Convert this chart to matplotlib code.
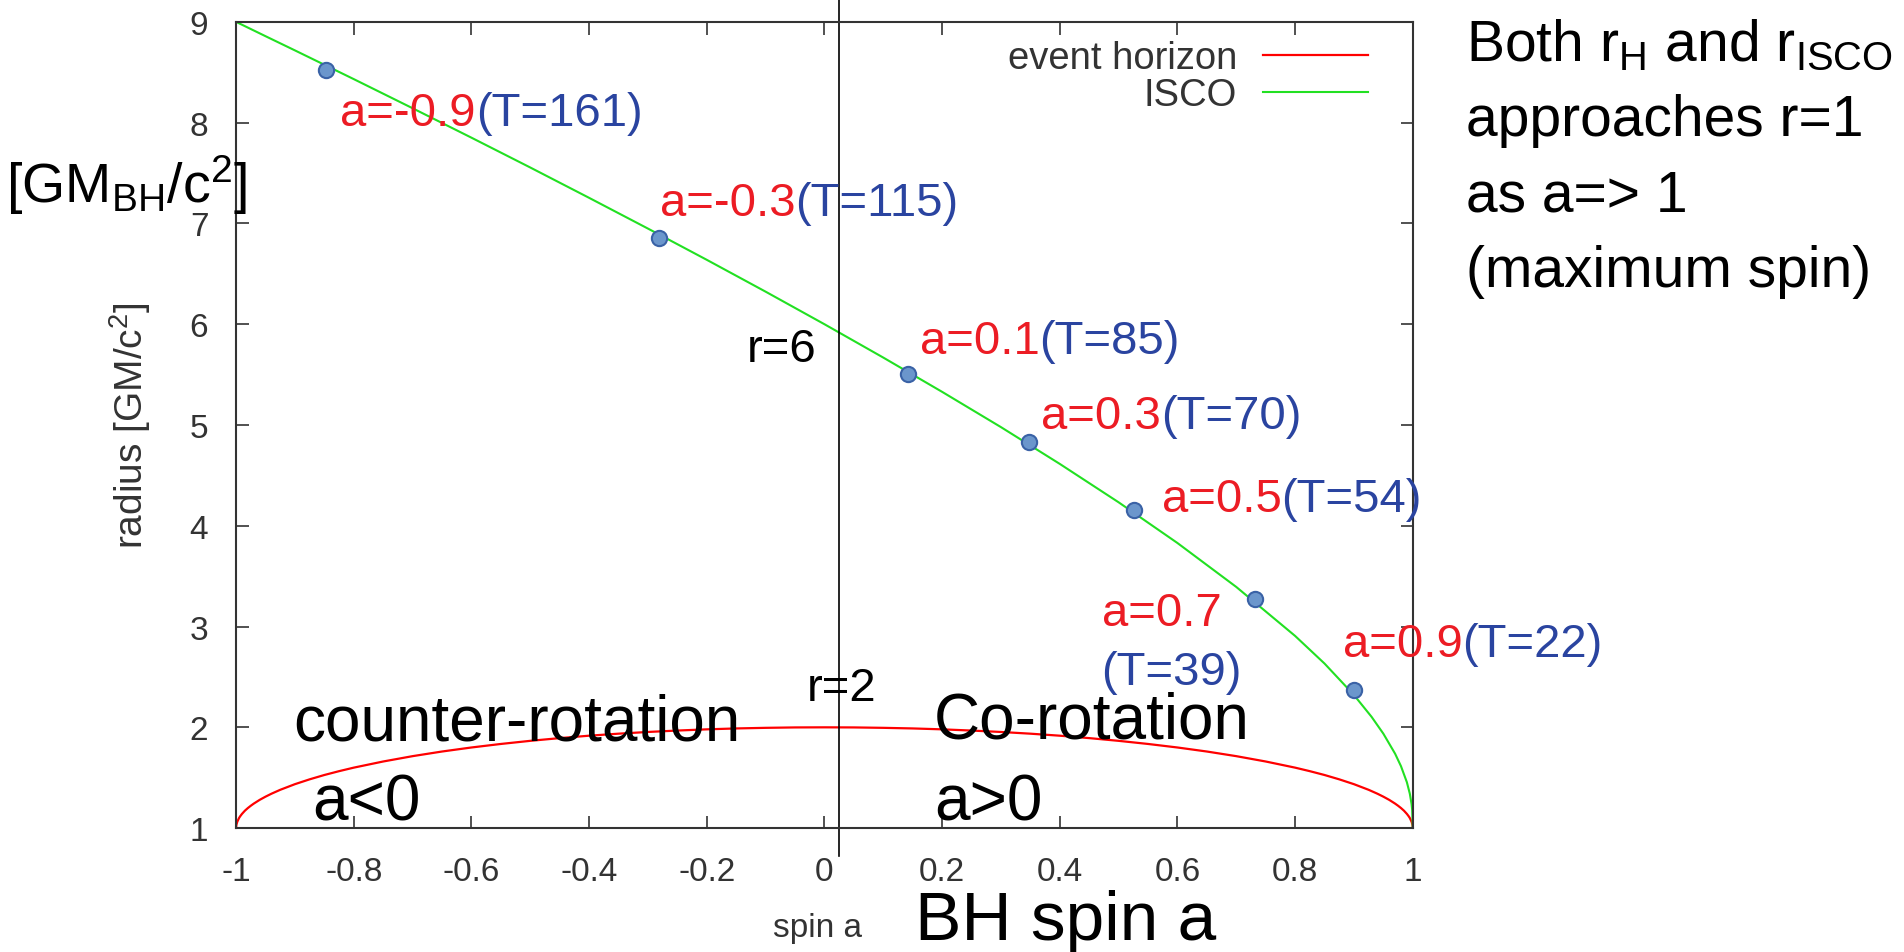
import numpy as np
import matplotlib
matplotlib.use("Agg")
from matplotlib import pyplot as plt

plt.rcParams['font.family'] = ['Liberation Sans', 'DejaVu Sans']
plt.rcParams['mathtext.fontset'] = 'custom'
plt.rcParams['mathtext.rm'] = 'Liberation Sans'
plt.rcParams['mathtext.it'] = 'Liberation Sans:italic'

# ISCO radius vs spin
isco_a = [-1.0, -0.95, -0.9, -0.8, -0.7, -0.6, -0.5, -0.4, -0.3, -0.2, -0.1, 0.0,
          0.1, 0.2, 0.3, 0.4, 0.5, 0.6, 0.7, 0.8, 0.85, 0.9, 0.93, 0.95, 0.97,
          0.98, 0.99, 0.995, 0.998, 0.999, 1.0]
isco_r = [9.0, 8.858, 8.717, 8.432, 8.143, 7.851, 7.555, 7.254, 6.949, 6.639, 6.323, 6.0,
          5.669, 5.329, 4.979, 4.614, 4.233, 3.829, 3.393, 2.907, 2.633, 2.321, 2.104, 1.937, 1.738,
          1.614, 1.455, 1.341, 1.237, 1.180, 1.0]

# event horizon radius vs spin
eh_a = [-1.0, -0.9995, -0.998, -0.995, -0.993, -0.99, -0.985, -0.98, -0.975, -0.97, -0.96,
        -0.95, -0.94, -0.925, -0.9, -0.875, -0.85, -0.825, -0.8, -0.75, -0.7, -0.65, -0.6,
        -0.55, -0.5, -0.45, -0.4, -0.35, -0.3, -0.25, -0.2, -0.15, -0.1, -0.05, 0.0,
        0.05, 0.1, 0.15, 0.2, 0.25, 0.3, 0.35, 0.4, 0.45, 0.5, 0.55, 0.6, 0.65, 0.7,
        0.75, 0.8, 0.825, 0.85, 0.875, 0.9, 0.925, 0.94, 0.95, 0.96, 0.97, 0.975, 0.98,
        0.985, 0.99, 0.993, 0.995, 0.998, 0.9995, 1.0]
eh_r = [1.0, 1.032, 1.063, 1.100, 1.118, 1.141, 1.173, 1.199, 1.222, 1.243, 1.280,
        1.312, 1.341, 1.380, 1.436, 1.484, 1.527, 1.565, 1.6, 1.661, 1.714, 1.760, 1.8,
        1.835, 1.866, 1.893, 1.917, 1.937, 1.954, 1.968, 1.980, 1.989, 1.995, 1.999, 2.0,
        1.999, 1.995, 1.989, 1.980, 1.968, 1.954, 1.937, 1.917, 1.893, 1.866, 1.835, 1.8, 1.760, 1.714,
        1.661, 1.6, 1.565, 1.527, 1.484, 1.436, 1.380, 1.341, 1.312, 1.280, 1.243, 1.222, 1.199,
        1.173, 1.141, 1.118, 1.100, 1.063, 1.032, 1.0]

# marked simulation runs
dot_a = [-0.847, -0.281, 0.142, 0.347, 0.526, 0.732, 0.900]
dot_r = [8.52, 6.86, 5.51, 4.83, 4.16, 3.27, 2.37]
spin_txt = ['a=-0.9', 'a=-0.3', 'a=0.1', 'a=0.3', 'a=0.5', 'a=0.7', 'a=0.9']
period_txt = ['(T=161)', '(T=115)', '(T=85)', '(T=70)', '(T=54)', '(T=39)', '(T=22)']

xticks = [-1, -0.8, -0.6, -0.4, -0.2, 0, 0.2, 0.4, 0.6, 0.8, 1]
xticklabels = ['-1', '-0.8', '-0.6', '-0.4', '-0.2', '0', '0.2', '0.4', '0.6', '0.8', '1']
yticks = [1, 2, 3, 4, 5, 6, 7, 8, 9]

# label placement (data coords, left/baseline)
label_pos = [(-0.823, 7.98), (-0.28, 7.08), (0.162, 5.71), (0.368, 4.97),
             (0.573, 4.15), (0.471, 3.02), (0.881, 2.71)]

RED = '#ec1c24'
BLUE = '#2a44a0'
GRAY = '#333333'

fig = plt.figure(figsize=(19.04, 9.53), dpi=100)
ax = fig.add_axes([0.124, 0.130, 0.618, 0.846])

ax.plot(eh_a, eh_r, color='#ff0000', lw=1.6, label='event horizon')
ax.plot(isco_a, isco_r, color='#22e022', lw=1.5, label='ISCO')
ax.plot(dot_a, dot_r, 'o', ms=11, mfc='#6b96cc', mec='#3a62a6', mew=1.5, zorder=5)

ax.set_xlim(-1, 1)
ax.set_ylim(1, 9)
ax.set_xticks(xticks)
ax.set_xticklabels(xticklabels)
ax.set_yticks(yticks)
ax.tick_params(direction='in', length=9, width=1.2, top=True, right=True,
               labelsize=24, labelcolor=GRAY, color=GRAY, pad=20)
for s in ax.spines.values():
    s.set_color(GRAY)
    s.set_linewidth(1.5)

# a=0 divider, runs past the frame
ax.axvline(0.025, ymin=-0.034, ymax=1.03, color='black', lw=1.2, clip_on=False)

ax.set_xlabel('spin a', fontsize=24, color=GRAY, va='baseline')
ax.xaxis.set_label_coords(0.494, -0.134)
ax.set_ylabel('radius [GM/c$^2$]', fontsize=28, color=GRAY)
ax.yaxis.set_label_coords(-0.071, 0.501)

ax.legend(loc='upper right', bbox_to_anchor=(0.962, 0.977), frameon=False,
          markerfirst=False, fontsize=27.5, labelcolor=GRAY, handlelength=2.75,
          handletextpad=0.68, labelspacing=0.02, borderpad=0, borderaxespad=0)

for i in range(len(spin_txt)):
    x, y = label_pos[i]
    t = ax.text(x, y, spin_txt[i], color=RED, fontsize=34, va='baseline')
    if i == 5:
        ax.text(x, 2.43, period_txt[i], color=BLUE, fontsize=34, va='baseline')
    else:
        ax.annotate(period_txt[i], xy=(1, 0), xycoords=t, va='bottom', ha='left',
                    color=BLUE, fontsize=34)

ax.text(-0.132, 5.63, 'r=6', fontsize=34, va='baseline')
ax.text(-0.030, 2.27, 'r=2', fontsize=34, va='baseline')
ax.text(-0.903, 1.88, 'counter-rotation', fontsize=46, va='baseline')
ax.text(-0.871, 1.09, 'a<0', fontsize=46, va='baseline')
ax.text(0.186, 1.90, 'Co-rotation', fontsize=46, va='baseline')
ax.text(0.186, 1.09, 'a>0', fontsize=46, va='baseline')

fig.text(0.003, 0.787, r'[GM$_\mathrm{BH}$/c$^2$]', fontsize=40, va='baseline')
fig.text(0.4805, 0.014, 'BH spin a', fontsize=50, va='baseline')

side = [r'Both r$_\mathrm{H}$ and r$_\mathrm{ISCO}$', 'approaches r=1',
        'as a=> 1', '(maximum spin)']
for k, line in enumerate(side):
    fig.text(0.770, 0.936 - 0.079 * k, line, fontsize=41, va='baseline')

fig.savefig('out.png', dpi=100)
